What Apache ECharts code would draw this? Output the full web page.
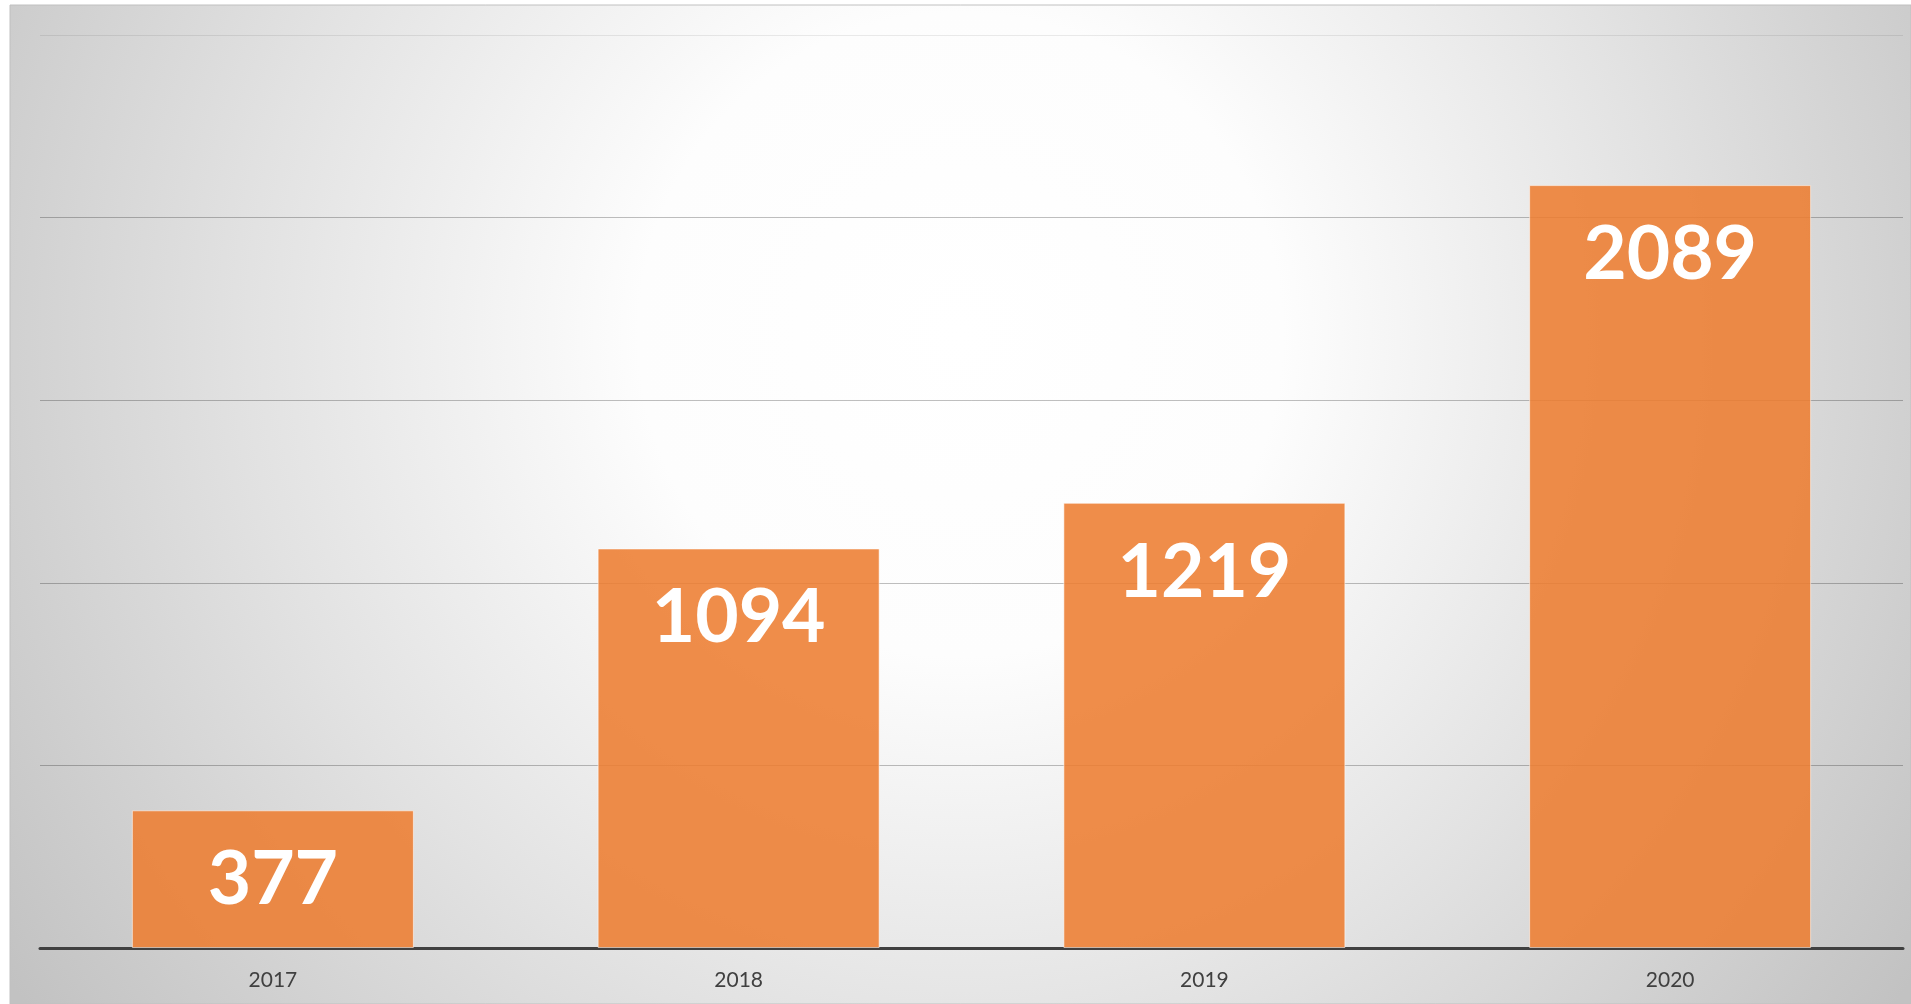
<!DOCTYPE html>
<html>
<head>
<meta charset="utf-8">
<script src="https://cdn.jsdelivr.net/npm/echarts@6/dist/echarts.min.js"></script>
<style>
  html, body { margin: 0; padding: 0; background: #fff; }
  #chart { width: 1911px; height: 1004px; }
</style>
</head>
<body>
<div id="chart"></div>
<script>
var years = ['2017', '2018', '2019', '2020'];
var values = [377, 1094, 1219, 2089];
var yMax = 2500;
var yStep = 500;

var barColor = 'rgba(237, 125, 49, 0.88)';
var labelFont = 'Lato';

var myChart = echarts.init(document.getElementById('chart'));

var option = {
    animation: false,
    backgroundColor: '#fff',
    graphic: [{
        type: 'rect',
        z: -10,
        shape: { x: 10, y: 5, width: 1901, height: 999 },
        style: {
            fill: {
                type: 'radial', x: 0.5, y: 0.33, r: 1.15,
                colorStops: [
                    { offset: 0, color: '#ffffff' },
                    { offset: 0.28, color: '#fdfdfd' },
                    { offset: 0.62, color: '#e2e2e2' },
                    { offset: 1, color: '#c2c2c2' }
                ]
            },
            stroke: '#c0c0c0',
            lineWidth: 1
        }
    }],
    grid: { left: 40, right: 8, top: 35, bottom: 56, containLabel: false },
    xAxis: {
        type: 'category',
        data: years,
        axisTick: { show: false },
        axisLine: { lineStyle: { color: '#404040', width: 3 } },
        axisLabel: {
            margin: 22,
            color: '#404040',
            fontSize: 21,
            fontFamily: labelFont
        }
    },
    yAxis: {
        type: 'value',
        min: 0,
        max: yMax,
        interval: yStep,
        axisLabel: { show: false },
        axisLine: { show: false },
        axisTick: { show: false },
        splitLine: {
            lineStyle: {
                // 最上面一条颜色浅一些
                color: ['rgba(0,0,0,0.25)', 'rgba(0,0,0,0.25)', 'rgba(0,0,0,0.25)',
                        'rgba(0,0,0,0.25)', 'rgba(0,0,0,0.25)', 'rgba(0,0,0,0.08)'],
                width: 1
            }
        }
    },
    series: [{
        type: 'bar',
        data: values,
        barWidth: 282,
        itemStyle: {
            color: barColor,
            borderColor: 'rgba(255,255,255,0.55)',
            borderWidth: 1
        },
        label: {
            show: true,
            position: 'insideTop',
            distance: 32,
            color: '#fff',
            fontSize: 75,
            fontWeight: 'bold',
            fontFamily: labelFont
        }
    }]
};
myChart.setOption(option);
</script>
</body>
</html>
